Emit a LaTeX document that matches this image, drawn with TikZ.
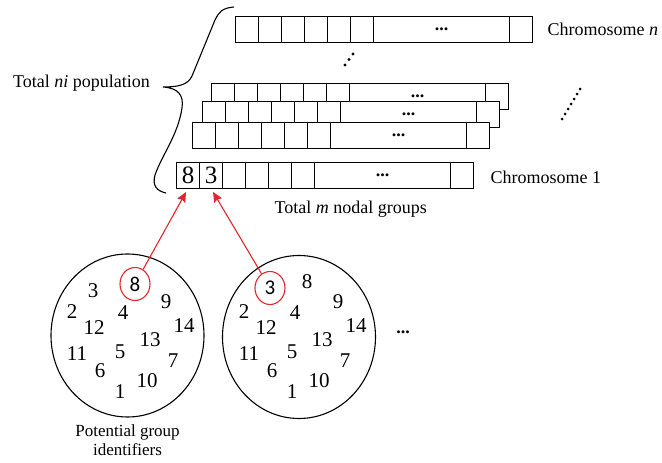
\documentclass[tikz,border=0pt]{standalone}
\usepackage{fontspec}
\setmainfont{Liberation Serif}
\newfontfamily\sansdigits{Carlito}
\usepackage{xcolor}
\usepackage{tikz}
\usetikzlibrary{shapes.geometric, arrows.meta, positioning}
\definecolor{pickred}{RGB}{228,38,42}
\tikzstyle{cell}     = [rectangle, draw, fill=white, minimum width=23pt, minimum height=26pt, inner sep=0pt, outer sep=0pt, line width=1.1pt, font=\fontsize{25}{25}\selectfont]
\tikzstyle{bigcell}  = [cell, minimum width=136pt, font=\bfseries\fontsize{18}{18}\selectfont]
\tikzstyle{lastcell} = [cell, minimum width=23pt]
\tikzstyle{textlbl}  = [inner sep=0pt, font=\fontsize{18}{20}\selectfont]
\tikzstyle{pool}     = [ellipse, draw, minimum width=153pt, minimum height=163pt, line width=1.1pt]
\tikzstyle{ident}    = [inner sep=0pt, font=\fontsize{21}{21}\selectfont]
\tikzstyle{picked}   = [ellipse, draw=pickred, minimum width=30pt, minimum height=33pt, inner sep=0pt, line width=1.1pt, font=\sansdigits\fontsize{21}{21}\selectfont]
\tikzstyle{redarrow} = [-{Stealth[length=10pt, width=9pt, inset=1.5pt]}, pickred, line width=1.1pt, shorten >=4pt]

\begin{document}
\begin{tikzpicture}[x=1pt, y=-1pt]
    \useasboundingbox (0,0) rectangle (662,463);

    % chromosome n and the stacked ones behind chromosome 1
    \foreach \r/\x/\y in {top/235.5/29.5, st3/211.5/96.5, st2/202.5/114.5, st1/192.5/135.5} {
      \foreach \i in {0,...,5}
        \node (\r\i) [cell] at (\x+11.5+23*\i,\y) {};
      \node (\r6) [bigcell] at (\x+138+68,\y) {...};
      \node (\r7) [lastcell] at (\x+274+11.5,\y) {};
    }

    % chromosome 1
    \foreach \i/\v in {0/8, 1/3, 2/, 3/, 4/, 5/}
      \node (one\i) [cell] at (176.5+11.5+23*\i,175.5) {\v};
    \node (one6) [bigcell] at (176.5+138+68,175.5) {...};
    \node (one7) [lastcell] at (176.5+274+11.5,175.5) {};

    \node (chromn) [textlbl, right=15pt of top7] {Chromosome \textit{n}};
    \node (chrom1) [textlbl, right=17pt of one7, yshift=-2pt] {Chromosome 1};
    \node (groups) [textlbl, below right=12pt and 6pt of one4.south west] {Total \textit{m} nodal groups};

    % dots
    \foreach \t in {0,1,2}
      \fill (353-4*\t,54+5.5*\t) circle (1.6);
    \foreach \t in {0,...,6}
      \fill (580-3*\t,89+5*\t) circle (1.5);

    % brace
    \coordinate (bracetip) at (163,87);
    \draw [line width=1.1pt] (234,7) .. controls (222,8) and (219,12) .. (215,20)
      -- (192,76) .. controls (188,85) and (178,87) .. (bracetip)
      .. controls (178,88) and (184,95) .. (182,108)
      .. controls (178,135) and (162,155) .. (155,175)
      .. controls (152,186) and (157,191) .. (166,193);
    \node (population) [textlbl, left=13pt of bracetip, yshift=4pt] {Total \textit{ni} population};

    % pools of group identifiers
    \node (poolA) [pool] at (127.5,335.5) {};
    \node (poolB) [pool] at (299,337) {};
    \foreach \v/\x/\y in {2/72/312, 4/123/313, 9/166/302, 12/94/328, 14/184/326, 13/150/340,
                          11/77/354, 5/120/352, 7/173/361, 6/100/371, 10/147/381, 1/120/392} {
      \node (a\v) [ident] at (\x,\y) {\v};
      \node (b\v) [ident] at (\x+172,\y) {\v};
    }
    \node (a3) [ident] at (93,291) {3};
    \node (pickA) [picked] at (135,284) {8};
    \node (pickB) [picked] at (270,288) {3};
    \node (b8) [ident] at (307,282) {8};

    \node (ident) [textlbl, below=7pt of poolA, align=center, font=\fontsize{17}{19}\selectfont] {Potential group\\identifiers};
    \node (more) [textlbl, right=20pt of poolB, yshift=5pt, font=\bfseries\fontsize{18}{18}\selectfont] {...};

    \draw [redarrow] (pickA) -- (one0.south);
    \draw [redarrow] (pickB) -- (one1.south);
  \end{tikzpicture}
\end{document}
